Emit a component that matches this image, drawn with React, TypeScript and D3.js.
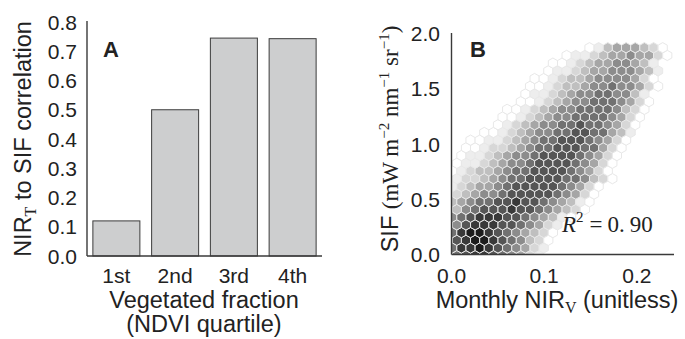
import React from 'react';
import * as d3 from 'd3';

const BAR_CATEGORIES = ['1st', '2nd', '3rd', '4th'];
const BAR_VALUES = [0.12, 0.5, 0.745, 0.743];
const A_Y_TICKS = [0, 0.1, 0.2, 0.3, 0.4, 0.5, 0.6, 0.7, 0.8];
const B_X_TICKS = [0, 0.1, 0.2];
const B_Y_TICKS = [0, 0.5, 1.0, 1.5, 2.0];

// hexbin density levels (0 = lightest, 9 = darkest, '.' = empty), row 0 = bottom
const HEX_ROWS = [
  '6788765421...............',
  '68898765421..............',
  '78998765320..............',
  '689987654320.............',
  '578887765421.............',
  '56788877654310...........',
  '356777877654320..........',
  '3456677877654310.........',
  '2345567777765420.........',
  '12344567777765420........',
  '122345667777665320.......',
  '012334566777765420.......',
  '011234556777765420.......',
  '.011234556777765420......',
  '.001223456677766420......',
  '..001123456677765420.....',
  '...00123455667766431.....',
  '.....0123455667665420....',
  '.....0012345566665420....',
  '......0012345566665320...',
  '.......001234556665420...',
  '........01123455665531...',
  '........001233455655420..',
  '.........00123345555420..',
  '..........0112344555431..',
  '...........001234455431..',
  '............011234454420.',
  '...............013444320.',
];
const HEX_X0 = 0.0008;
const HEX_DX = 0.00987;
const HEX_Y0 = -0.0107;
const HEX_DY = 0.0697;

const SANS = 'Liberation Sans, Arial, Helvetica, sans-serif';
const SERIF = 'Liberation Serif, Times New Roman, serif';

export default function App() {
  const xA = d3.scaleBand<string>().domain(BAR_CATEGORIES).range([87, 322]).paddingInner(0.2).paddingOuter(0.1);
  const yA = d3.scaleLinear().domain([0, 0.8]).range([256, 22]);

  const xB = d3.scaleLinear().domain([0, 0.24]).range([451.5, 674]);
  const yB = d3.scaleLinear().domain([0, 2]).range([254.5, 33.5]);
  const color = d3.scalePow().exponent(1.15).domain([0, 9]).range([255, 28]);

  const hw = (xB(HEX_DX) - xB(0)) / 2;
  const rh = yB(0) - yB(HEX_DY);
  const hexPath = (cx: number, cy: number) => {
    const p = d3.path();
    p.moveTo(cx, cy - (2 * rh) / 3);
    p.lineTo(cx + hw, cy - rh / 3);
    p.lineTo(cx + hw, cy + rh / 3);
    p.lineTo(cx, cy + (2 * rh) / 3);
    p.lineTo(cx - hw, cy + rh / 3);
    p.lineTo(cx - hw, cy - rh / 3);
    p.closePath();
    return p.toString();
  };

  const hexes: { d: string; fill: string; key: string }[] = [];
  HEX_ROWS.forEach((row, j) => {
    const yv = HEX_Y0 + j * HEX_DY;
    row.split('').forEach((ch, c) => {
      if (ch === '.') return;
      const lvl = +ch;
      const xv = HEX_X0 + (c + (j % 2 === 0 ? 0.5 : 0)) * HEX_DX;
      const g = Math.round(color(lvl));
      hexes.push({ d: hexPath(xB(xv), yB(yv)), fill: `rgb(${g},${g},${g})`, key: `${j}-${c}` });
    });
  });

  const spine = '#3a3a3a';
  const tickFs = 21;
  const labFs = 23.5;

  return (
    <svg width={685} height={339} style={{ position: 'absolute', left: 0, top: 0, background: '#fff' }}>
      <rect x={0} y={0} width={685} height={339} fill="#fff" />
      {/* Panel A */}
      {BAR_CATEGORIES.map((c, i) => (
        <rect key={c} x={xA(c)} y={yA(BAR_VALUES[i])} width={xA.bandwidth()} height={yA(0) - yA(BAR_VALUES[i])}
          fill="#cdcecf" stroke="#3c3c3c" strokeWidth={1} />
      ))}
      <line x1={87} x2={87} y1={yA(0.8) - 1} y2={yA(0)} stroke={spine} strokeWidth={1.4} />
      <line x1={87} x2={322} y1={yA(0)} y2={yA(0)} stroke={spine} strokeWidth={1.4} />
      {A_Y_TICKS.map(t => (
        <text key={t} x={77} y={yA(t)} textAnchor="end" dominantBaseline="central" fontFamily={SANS} fontSize={tickFs} fill="#222">{t.toFixed(1)}</text>
      ))}
      {BAR_CATEGORIES.map(c => (
        <text key={c} x={(xA(c) as number) + xA.bandwidth() / 2} y={275} textAnchor="middle" dominantBaseline="central" fontFamily={SANS} fontSize={tickFs} fill="#222">{c}</text>
      ))}
      <text x={204} y={308} textAnchor="middle" fontFamily={SANS} fontSize={labFs} fill="#222">Vegetated fraction</text>
      <text x={204} y={332} textAnchor="middle" fontFamily={SANS} fontSize={labFs} fill="#222">(NDVI quartile)</text>
      <text transform="translate(31,139) rotate(-90)" textAnchor="middle" fontFamily={SANS} fontSize={labFs} fill="#222">
        NIR<tspan fontFamily={SERIF} fontSize={16} dy={5}>T</tspan><tspan dy={-5}> to SIF correlation</tspan>
      </text>
      <text x={103} y={57} fontFamily={SANS} fontWeight="bold" fontSize={22} fill="#222">A</text>

      {/* Panel B */}
      <defs>
        <clipPath id="clipB">
          <rect x={xB(0)} y={25} width={xB(0.24) - xB(0)} height={yB(0) - 25} />
        </clipPath>
      </defs>
      <g clipPath="url(#clipB)">
        {hexes.map(h => (
          <path key={h.key} d={h.d} fill={h.fill} stroke="#e8e8e8" strokeWidth={1} />
        ))}
      </g>
      <line x1={xB(0)} x2={xB(0)} y1={yB(2) - 0.5} y2={yB(0)} stroke={spine} strokeWidth={1.4} />
      <line x1={xB(0)} x2={xB(0.24)} y1={yB(0)} y2={yB(0)} stroke={spine} strokeWidth={1.4} />
      {B_Y_TICKS.map(t => (
        <text key={t} x={440} y={yB(t)} textAnchor="end" dominantBaseline="central" fontFamily={SANS} fontSize={tickFs} fill="#222">{t.toFixed(1)}</text>
      ))}
      {B_X_TICKS.map(t => (
        <text key={t} x={xB(t)} y={275} textAnchor="middle" dominantBaseline="central" fontFamily={SANS} fontSize={tickFs} fill="#222">{t.toFixed(1)}</text>
      ))}
      <text x={557} y={308} textAnchor="middle" fontFamily={SANS} fontSize={labFs} fill="#222">
        Monthly NIR<tspan fontFamily={SERIF} fontSize={16} dy={5}>V</tspan><tspan dy={-5}> (unitless)</tspan>
      </text>
      <text transform="translate(398,139) rotate(-90)" textAnchor="middle" fontFamily={SANS} fontSize={labFs} fill="#222">
        SIF <tspan fontFamily={SERIF} fontSize={23}>(mW m</tspan>
        <tspan fontFamily={SERIF} fontSize={15} dy={-9}>−2</tspan>
        <tspan fontFamily={SERIF} fontSize={23} dy={9}> nm</tspan>
        <tspan fontFamily={SERIF} fontSize={15} dy={-9}>−1</tspan>
        <tspan fontFamily={SERIF} fontSize={23} dy={9}> sr</tspan>
        <tspan fontFamily={SERIF} fontSize={15} dy={-9}>−1</tspan>
        <tspan fontFamily={SERIF} fontSize={23} dy={9}>)</tspan>
      </text>
      <text x={470} y={57} fontFamily={SANS} fontWeight="bold" fontSize={22} fill="#222">B</text>
      <text x={562} y={232} fontFamily={SERIF} fontSize={23} fill="#222">
        <tspan fontStyle="italic">R</tspan>
        <tspan fontSize={15} dy={-10}>2</tspan>
        <tspan dy={10} dx={6}>=</tspan>
        <tspan dx={5}>0.</tspan>
        <tspan dx={5}>90</tspan>
      </text>
    </svg>
  );
}
